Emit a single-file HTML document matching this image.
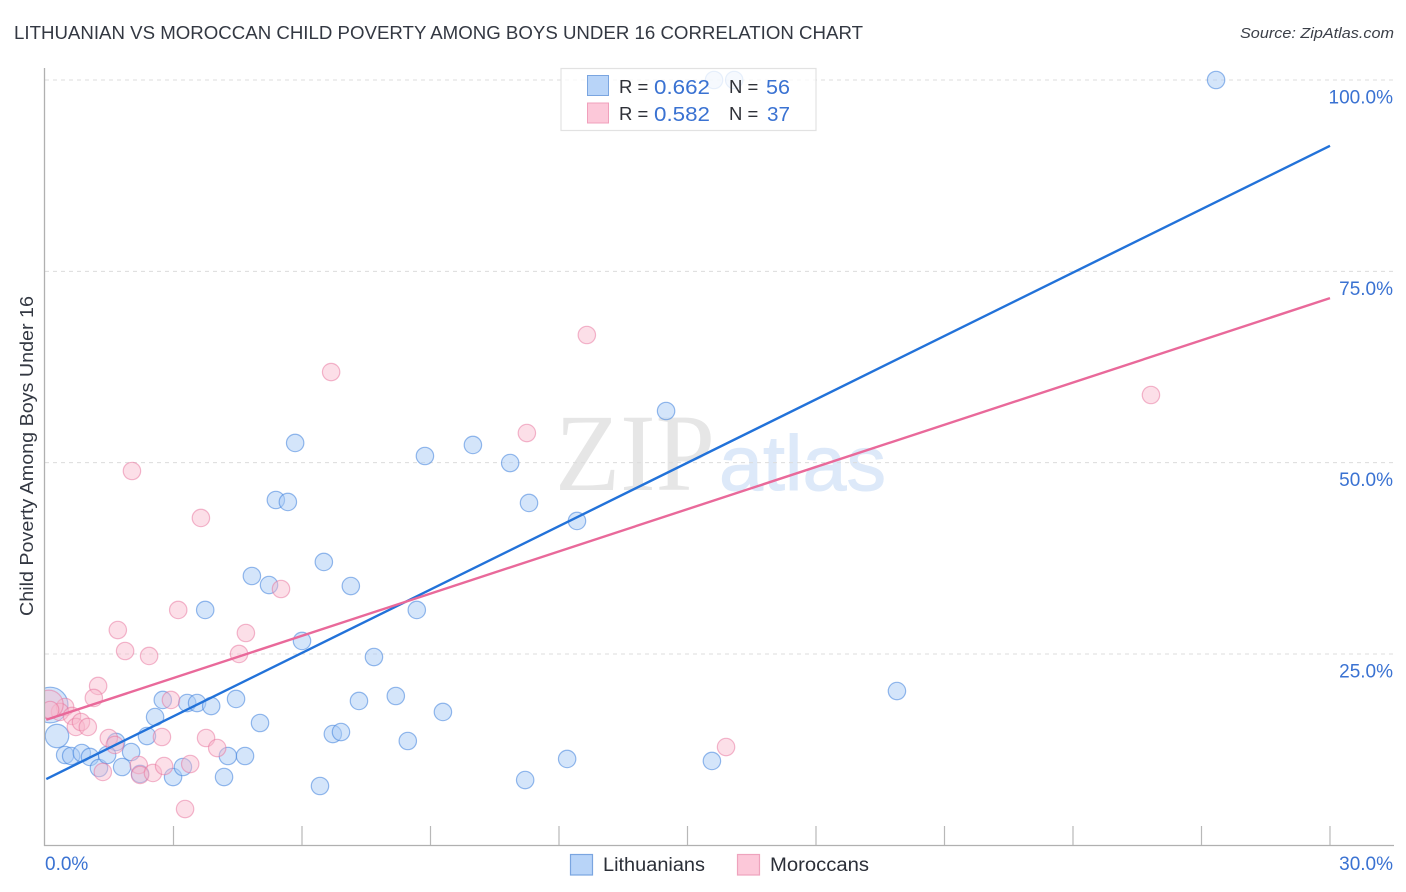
<!DOCTYPE html>
<html lang="en">
<head>
<meta charset="utf-8">
<title>Lithuanian vs Moroccan Child Poverty Among Boys Under 16 Correlation Chart</title>
<style>
html,body{margin:0;padding:0;background:#fff;width:1406px;height:892px;overflow:hidden}
svg{display:block;font-family:"Liberation Sans",sans-serif}
</style>
</head>
<body>
<svg id="chart" width="1406" height="892" viewBox="0 0 1406 892" xmlns="http://www.w3.org/2000/svg">
  <text x="14" y="39" font-size="18.5" fill="#333842" textLength="849" lengthAdjust="spacingAndGlyphs">LITHUANIAN VS MOROCCAN CHILD POVERTY AMONG BOYS UNDER 16 CORRELATION CHART</text>
  <text x="1394" y="38" font-size="15" font-style="italic" fill="#3b3f48" text-anchor="end" textLength="154" lengthAdjust="spacingAndGlyphs">Source: ZipAtlas.com</text>

  <g>
    <text x="555" y="490" font-family="'Liberation Serif',serif" font-size="110" fill="#e6e6e6" textLength="160" lengthAdjust="spacingAndGlyphs">ZIP</text>
    <text x="719" y="490" font-size="78" fill="#dde9f9" stroke="#dde9f9" stroke-width="1" textLength="167" lengthAdjust="spacingAndGlyphs">atlas</text>
  </g>

  <g id="grid"></g>
  <g id="points"></g>
  <rect x="0" y="60" width="44.5" height="800" fill="#fff"/>
  <g id="axes"></g>
  <g id="trends"></g>
  <g id="ylabels"></g>
  <g id="xlabels"></g>

  <text transform="translate(33,456) rotate(-90)" font-size="18" fill="#333842" text-anchor="middle" textLength="320" lengthAdjust="spacingAndGlyphs">Child Poverty Among Boys Under 16</text>

  <g>
    <rect x="561" y="68.5" width="255" height="62" fill="#fff" fill-opacity="0.78" stroke="#e2e2e2" stroke-width="1.2"/>
    <rect x="587.5" y="75.5" width="21" height="20" fill="#b8d4f8" stroke="#7aa5e0" stroke-width="1"/>
    <rect x="587.5" y="103" width="21" height="20" fill="#fcc8d9" stroke="#f0a0bc" stroke-width="1"/>
    <text x="619" y="93" font-size="18.5" fill="#2f3138">R =</text>
    <text x="654" y="94" font-size="20.5" fill="#3a72d2" textLength="56" lengthAdjust="spacingAndGlyphs">0.662</text>
    <text x="729" y="93" font-size="18.5" fill="#2f3138">N =</text>
    <text x="766" y="94" font-size="20.5" fill="#3a72d2" textLength="24" lengthAdjust="spacingAndGlyphs">56</text>
    <text x="619" y="120" font-size="18.5" fill="#2f3138">R =</text>
    <text x="654" y="121" font-size="20.5" fill="#3a72d2" textLength="56" lengthAdjust="spacingAndGlyphs">0.582</text>
    <text x="729" y="120" font-size="18.5" fill="#2f3138">N =</text>
    <text x="767" y="121" font-size="20.5" fill="#3a72d2" textLength="23" lengthAdjust="spacingAndGlyphs">37</text>
  </g>

  <g>
    <rect x="570.5" y="854.5" width="22" height="20.5" fill="#b8d4f8" stroke="#7aa5e0" stroke-width="1.2"/>
    <text x="603" y="871" font-size="19" fill="#2b2f38" textLength="102" lengthAdjust="spacingAndGlyphs">Lithuanians</text>
    <rect x="737.5" y="854.5" width="22" height="20.5" fill="#fcc8d9" stroke="#eea3bd" stroke-width="1.2"/>
    <text x="770" y="871" font-size="19" fill="#2b2f38" textLength="99" lengthAdjust="spacingAndGlyphs">Moroccans</text>
  </g>
</svg>

<script>
const xTickValues = [0, 3, 6, 9, 12, 15, 18, 21, 24, 27, 30];
const xTickLabels = ["0.0%", "30.0%"];
const xLabelValues = [0, 30];
const yGridValues = [25, 50, 75, 100];
const yTickLabels = ["25.0%", "50.0%", "75.0%", "100.0%"];

const lithuaniansX = [27.34,15.62,16.09,14.50,5.84,8.87,9.99,10.86,11.30,5.39,5.67,12.42,4.83,5.23,6.51,7.14,3.74,8.68,6.00,7.68,19.89,2.75,3.32,3.55,3.88,4.46,7.33,8.19,9.29,2.57,5.02,2.38,6.72,6.91,8.47,1.66,0.28,0.47,0.61,0.86,1.05,1.26,1.45,2.01,1.80,2.22,2.99,3.22,4.27,4.67,4.18,6.42,11.21,12.19,15.57,0.12];
const lithuaniansY = [100,100,100,56.75,52.57,50.87,52.31,49.95,44.73,45.12,44.86,42.38,35.19,34.01,37.02,33.88,30.75,30.75,26.70,24.60,20.16,18.99,18.59,18.59,18.20,19.12,18.86,19.51,17.42,16.76,15.98,14.28,14.54,14.80,13.63,13.50,14.28,11.80,11.67,12.06,11.54,10.10,11.80,12.19,10.23,9.32,8.92,10.23,11.67,11.67,8.92,7.75,8.53,11.28,11.02,18.33];
const lithuaniansWeight = [1,1,1,1,1,1,1,1,1,1,1,1,1,1,1,1,1,1,1,1,1,1,1,1,1,1,1,1,1,1,1,1,1,1,1,1,1.35,1,1,1,1,1,1,1,1,1,1,1,1,1,1,1,1,1,1,2.05];

const moroccansX = [12.65,6.68,25.82,11.25,2.03,3.64,5.51,3.11,1.70,4.69,1.87,2.43,4.53,1.24,1.14,2.94,0.47,0.35,0.63,0.72,0.84,1.00,1.49,1.63,2.73,3.76,4.02,2.19,2.22,2.52,2.78,3.39,1.35,3.27,0.09,0.12,15.90];
const moroccansY = [66.68,61.84,58.84,53.87,48.91,42.77,33.49,30.75,28.13,27.74,25.39,24.74,25.00,20.82,19.25,18.99,18.07,17.42,16.90,15.46,16.11,15.46,14.02,13.11,14.15,14.02,12.71,10.49,9.19,9.45,10.36,10.62,9.58,4.74,18.40,17.68,12.84];
const moroccansWeight = [1,1,1,1,1,1,1,1,1,1,1,1,1,1,1,1,1,1,1,1,1,1,1,1,1,1,1,1,1,1,1,1,1,1,1.65,1,1];

const trendX = [0.03, 30];
const lithuaniansTrend = [8.66, 91.4];
const moroccansTrend = [16.4, 71.5];

const NS = "http://www.w3.org/2000/svg";
const xScale = v => 45 + v * 42.833;
const yScale = v => 845.3 - v * 7.653;
const mk = (tag, attrs, parent) => {
  const el = document.createElementNS(NS, tag);
  for (const k in attrs) el.setAttribute(k, attrs[k]);
  parent.appendChild(el);
  return el;
};

const grid = document.getElementById("grid");
yGridValues.forEach(v => {
  const line = mk("line", {x1: 45, x2: 1393, y1: yScale(v), y2: yScale(v), stroke: "#dcdcdc", "stroke-width": 1, "stroke-dasharray": "4 4"}, grid);
  
  
});

const axes = document.getElementById("axes");
const yAxis = mk("line", {x1: 44.5, x2: 44.5, y1: 68, y2: 846, stroke: "#b0b0b0", "stroke-width": 1.3}, axes);


const xAxis = mk("line", {x1: 44, x2: 1394, y1: 845.5, y2: 845.5, stroke: "#b0b0b0", "stroke-width": 1.3}, axes);


xTickValues.slice(1).forEach(v => {
  const tick = mk("line", {x1: xScale(v), x2: xScale(v), y1: 826, y2: 845, stroke: "#b8b8b8", "stroke-width": 1.2}, axes);
  
  
});

const ylabels = document.getElementById("ylabels");
yGridValues.forEach((v, i) => {
  const t = mk("text", {x: 1393, y: yScale(v) + 23.5, "font-size": 19, fill: "#3a72d2", "text-anchor": "end"}, ylabels);
  t.textContent = yTickLabels[i];
  
  
});

const xlabels = document.getElementById("xlabels");
xLabelValues.forEach((v, i) => {
  const t = mk("text", {x: i === 0 ? xScale(v) : 1393, y: 870, "font-size": 19, fill: "#3a72d2", "text-anchor": i === 0 ? "start" : "end"}, xlabels);
  t.textContent = xTickLabels[i];
  
  
});

const pts = document.getElementById("points");
lithuaniansX.forEach((x, i) => {
  const c = mk("circle", {cx: xScale(x), cy: yScale(lithuaniansY[i]), r: 8.7 * lithuaniansWeight[i], fill: "#a9cbf5", "fill-opacity": 0.5, stroke: "#3f82dc", "stroke-opacity": 0.55, "stroke-width": 1.2}, pts);
  
  
});
moroccansX.forEach((x, i) => {
  const c = mk("circle", {cx: xScale(x), cy: yScale(moroccansY[i]), r: 8.7 * moroccansWeight[i], fill: "#f9b9cd", "fill-opacity": 0.45, stroke: "#e8729c", "stroke-opacity": 0.5, "stroke-width": 1.2}, pts);
  
  
});

const trends = document.getElementById("trends");
const blue = mk("line", {x1: xScale(trendX[0]), y1: yScale(lithuaniansTrend[0]), x2: xScale(trendX[1]), y2: yScale(lithuaniansTrend[1]), stroke: "#2272d9", "stroke-width": 2.4}, trends);


const pink = mk("line", {x1: xScale(trendX[0]), y1: yScale(moroccansTrend[0]), x2: xScale(trendX[1]), y2: yScale(moroccansTrend[1]), stroke: "#e9699a", "stroke-width": 2.4}, trends);


</script>
</body>
</html>
